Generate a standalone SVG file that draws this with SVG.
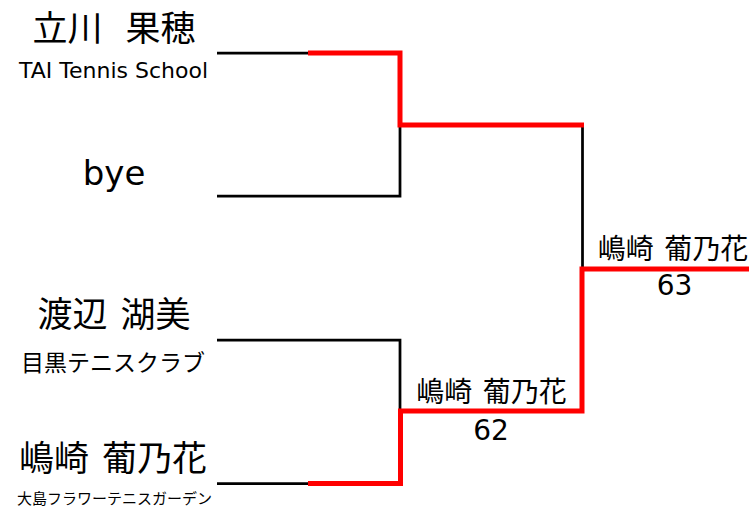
<svg xmlns="http://www.w3.org/2000/svg" width="749" height="509" viewBox="0 0 749 509">
<style>
.jp{font-family:"Noto Sans CJK JP","Noto Sans CJK SC",sans-serif;fill:#000;text-anchor:middle}
.lat{font-family:"DejaVu Sans","Noto Sans CJK JP",sans-serif;fill:#000;text-anchor:middle}
.name{font-size:35px;word-spacing:5px}
.win{font-size:28px;word-spacing:4px}
.score{font-size:28px}
.blk{fill:none;stroke:#000;stroke-width:2.75;stroke-linejoin:miter;stroke-linecap:butt}
.red{fill:none;stroke:#f00;stroke-width:5;stroke-linejoin:miter;stroke-linecap:butt}
</style>
<rect width="749" height="509" fill="#fff"/>
<g id="connectors">
<path class="blk" d="M217,53 H309"/>
<path class="blk" d="M217,196 H400 V124"/>
<path class="blk" d="M582.5,124 V270"/>
<path class="blk" d="M217,340 H400 V412"/>
<path class="blk" d="M217,483.5 H309"/>
<path class="red" d="M308,53 H400 V125 H584"/>
<path class="red" d="M749,269 H582 V411 H400.5 V483.5 H308"/>
</g>
<g id="player1">
<text class="jp name" x="114" y="41" style="word-spacing:15px">立川 果穂</text>
<text class="lat" x="113.5" y="78" font-size="22">TAI Tennis School</text>
</g>
<g id="player2">
<text class="lat" x="114" y="185" font-size="34">bye</text>
</g>
<g id="player3">
<text class="jp name" x="114" y="327">渡辺 湖美</text>
<text class="jp" x="113" y="371" font-size="23">目黒テニスクラブ</text>
</g>
<g id="player4">
<text class="jp name" x="113" y="471">嶋崎 葡乃花</text>
<text class="jp" x="114.5" y="504" font-size="15">大島フラワーテニスガーデン</text>
</g>
<g id="semifinal-winner">
<text class="jp win" x="491.5" y="402">嶋崎 葡乃花</text>
<text class="lat score" x="491" y="440">62</text>
</g>
<g id="final-winner">
<text class="jp win" x="673" y="259">嶋崎 葡乃花</text>
<text class="lat score" x="674.5" y="295">63</text>
</g>
</svg>
